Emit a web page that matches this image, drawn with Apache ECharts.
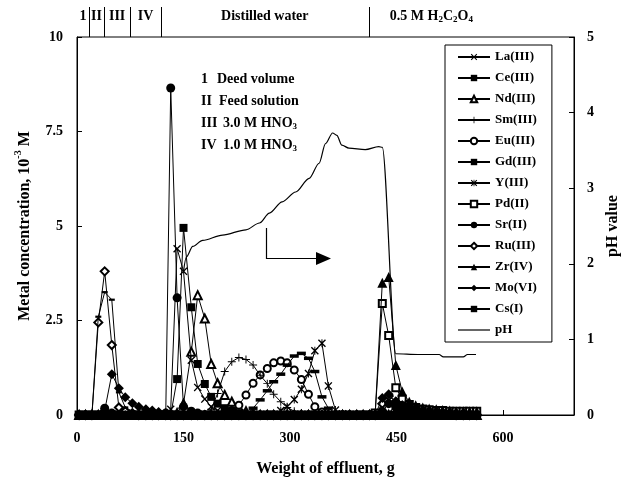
<!DOCTYPE html>
<html><head><meta charset="utf-8">
<script src="https://cdn.jsdelivr.net/npm/echarts@6/dist/echarts.min.js"></script>
<style>html,body{margin:0;padding:0;background:#fff}#c{width:635px;height:485px}</style>
</head><body><div id="c"></div>
<script>
// ---- data ----
const X = [3,12,21,30,39,49,59,68,78,87, 97,106,115,125,132,141,150,161,170,180, 189,198,208,218,228,238,248,258,268,277, 287,296,306,316,326,335,345,354,364,374, 384,394,403,412,420,430,439,449,458,468, 477,487,496,506,515,525,534,544,553,563];
const La = [0,0,0,0,0,0,0,0,0,0, 0,0,0,0,0.15,4.4,3.8,1.45,0.73,0.42, 0.22,0.12,0.06,0,0,0,0,0,0,0, 0,0,0,0,0,0,0,0,0,0, 0,0,0,0,0,0.05,0.05,0,0,0, 0,0,0,0,0,0,0,0,0,0];
const Ce = [0,0,0,0,0,0,0,0,0,0, 0,0,0,0,0,0.95,4.95,2.85,1.35,0.82, 0.48,0.3,0.18,0.1,0.05,0,0,0,0,0, 0,0,0,0,0,0,0,0,0,0, 0,0,0,0,0,0,0,0,0,0, 0,0,0,0,0,0,0,0,0,0];
const Nd = [0,0,0,0,0,0,0,0,0,0, 0,0,0,0,0,0.05,0.3,1.67,3.17,2.55, 1.35,0.84,0.53,0.35,0.2,0.1,0.05,0,0,0, 0,0,0,0,0,0,0,0,0,0, 0,0,0,0,0,0,0,0,0,0, 0,0,0,0,0,0,0,0,0,0];
const Sm = [0,0,0,0,0,0,0,0,0,0, 0,0,0,0,0,0,0,0,0,0, 0.15,0.57,1.15,1.41,1.52,1.47,1.32,1.05,0.83,0.55, 0.35,0.2,0.1,0.05,0,0,0,0,0,0, 0,0,0,0,0,0,0,0,0,0, 0,0,0,0,0,0,0,0,0,0];
const Eu = [0,0,0,0,0,0,0,0,0,0, 0,0,0,0,0,0,0,0,0,0, 0,0,0.05,0.12,0.26,0.53,0.84,1.06,1.23,1.38, 1.43,1.38,1.19,0.94,0.55,0.22,0.08,0,0,0, 0,0,0,0,0,0,0,0,0,0, 0,0,0,0,0,0,0,0,0,0];
const Gd = [0,0,0,0,0,0,0,0,0,0, 0,0,0,0,0,0,0,0,0,0, 0,0,0,0,0,0,0.18,0.4,0.64,0.88, 1.08,1.32,1.56,1.63,1.5,1.15,0.48,0.18,0.05,0, 0,0,0,0,0,0,0,0,0,0, 0,0,0,0,0,0,0,0,0,0];
const Y3 = [0,0,0,0,0,0,0,0,0,0, 0,0,0,0,0,0,0,0,0,0, 0,0,0,0,0,0,0,0,0,0, 0.12,0.22,0.41,0.68,1.1,1.7,1.9,0.77,0.13,0.03, 0,0,0,0,0,0,0,0,0,0, 0,0,0,0,0,0,0,0,0,0];
const Pd = [0,0,0,0,0,0,0,0,0,0, 0,0,0,0,0,0,0,0,0,0, 0,0,0,0,0,0,0,0,0,0, 0,0,0,0,0,0,0,0,0,0, 0,0,0,0,0.05,2.95,2.1,0.72,0.42,0.28, 0.2,0.16,0.14,0.12,0.12,0.1,0.1,0.1,0.1,0.1];
const Sr = [0,0,0,0,0.18,0.05,0,0,0,0, 0,0,0,0.05,8.65,3.1,0.22,0.1,0.05,0, 0,0,0,0,0,0,0,0,0,0, 0,0,0,0,0,0,0,0,0,0, 0,0,0,0,0,0.1,0.3,0.2,0.1,0.05, 0,0,0,0,0,0,0,0,0,0];
const Ru = [0,0,0,2.45,3.8,1.85,0.2,0.1,0.05,0, 0,0,0,0,0,0,0,0,0,0, 0,0,0,0,0,0,0,0,0,0, 0,0,0,0,0,0,0,0,0,0, 0,0,0,0,0,0.3,0.5,0.35,0.25,0.15, 0.1,0.08,0.06,0.05,0.05,0.05,0,0,0,0];
const Zr = [0,0,0,0,0,0,0,0,0,0, 0,0,0,0,0,0,0,0,0,0, 0,0,0,0,0,0,0,0,0,0, 0,0,0,0,0,0,0,0,0,0, 0,0,0,0,0.05,3.5,3.65,1.32,0.62,0.35, 0.26,0.2,0.17,0.15,0.13,0.12,0.1,0.1,0.1,0.1];
const Mo = [0,0,0,0,0.12,1.08,0.71,0.47,0.31,0.22, 0.15,0.12,0.08,0.05,0,0,0,0,0,0, 0,0,0,0,0,0,0,0,0,0, 0,0,0,0,0,0,0,0,0,0, 0,0,0,0,0,0.45,0.55,0.35,0.25,0.18, 0.12,0.1,0.08,0.06,0.05,0.05,0.05,0.05,0,0];
const Cs = [0,0,0,2.6,3.25,3.05,0.6,0.2,0.1,0.05, 0,0,0,0,0,0,0,0,0,0, 0,0,0,0,0,0,0,0,0,0, 0,0,0,0,0,0,0,0,0,0, 0,0,0,0,0,0,0,0,0,0, 0,0,0,0,0,0,0,0,0,0];
const pHx = [150,154,163,177,205,238,257,271,289,308,327,341,350,360,366,373,383,406,425,430,449,480,510,516,544,550,562];
const pHy = [1.9,2.09,2.23,2.31,2.38,2.45,2.54,2.67,2.82,2.95,3.13,3.33,3.59,3.73,3.70,3.57,3.53,3.51,3.55,3.54,0.81,0.80,0.80,0.77,0.77,0.80,0.80];
const xTickLabels = [0,150,300,450,600];
const phaseBounds = [17,38,75,118,411];
const phaseNames = ['1','II','III','IV','Distilled water'];
const noteNums = ['1','II','III','IV'];
const noteTexts = ['{a|Deed volume}','{a|Feed solution}','{a|3.0 M HNO}{s|3}','{a|1.0 M HNO}{s|3}'];

// ---- chart ----
const FONT = '"Liberation Serif","Times New Roman",serif';
const XP = 'path://M0,1.2L1.2,0L5,3.8L8.8,0L10,1.2L6.2,5L10,8.8L8.8,10L5,6.2L1.2,10L0,8.8L3.8,5Z';
const PLUS = 'path://M4.4,0H5.6V4.4H10V5.6H5.6V10H4.4V5.6H0V4.4H4.4Z';
const STAR = 'path://M0,1.2L1.2,0L5,3.8L8.8,0L10,1.2L6.2,5L10,8.8L8.8,10L5,6.2L1.2,10L0,8.8L3.8,5Z M4.4,0H5.6V10H4.4Z';
// name, values, symbol, size, borderWidth, z
const metals = [
  ['La(III)', La, XP, 8, 0, 3],
  ['Ce(III)', Ce, 'rect', 8, 0, 4],
  ['Nd(III)', Nd, 'emptyTriangle', 8, 1, 2],
  ['Sm(III)', Sm, PLUS, 8, 0, 3],
  ['Eu(III)', Eu, 'emptyCircle', 7, 1, 2],
  ['Gd(III)', Gd, 'rect', [9,3.5], 0, 4],
  ['Y(III)', Y3, STAR, 8, 0, 3],
  ['Pd(II)', Pd, 'emptyRect', 7, 1, 2],
  ['Sr(II)', Sr, 'circle', 9, 0, 4],
  ['Ru(III)', Ru, 'emptyDiamond', 8, 1, 2],
  ['Zr(IV)', Zr, 'triangle', 10, 0, 4],
  ['Mo(VI)', Mo, 'diamond', 10, 0, 4],
  ['Cs(I)', Cs, 'rect', [6,2.2], 0, 4]
];
const series = metals.map(m => ({
  name: m[0], type: 'line', data: X.map((x,i)=>[x, m[1][i]]), z: m[5],
  symbol: m[2], symbolSize: m[3], showAllSymbol: true, clip: false,
  lineStyle: {color:'#000', width: 1},
  itemStyle: {color:'#000', borderColor:'#000', borderWidth: m[4]},
  emphasis: {disabled: true}
}));
series.push({
  name: 'pH', type: 'line', yAxisIndex: 1, symbol: 'none', smooth: 0.3, smoothMonotone: 'x', z: 2,
  data: pHx.map((x,i)=>[x, pHy[i]]),
  lineStyle: {color:'#000', width: 1.2}, itemStyle: {color:'#000'}, emphasis: {disabled: true}
});

const chart = echarts.init(document.getElementById('c'), null, {renderer: 'canvas'});
const labelStyle = {fontFamily: FONT, fontWeight: 'bold', fontSize: 14, color: '#000'};
const legendData = metals.map(m => ({name: m[0]}));
legendData.push({name: 'pH', icon: 'path://M0,0M0,3.4H32V4.6H0ZM32,8'});
chart.setOption({
  animation: false,
  backgroundColor: '#fff',
  grid: {left: 77, top: 37, width: 497, height: 378, show: true, borderColor: '#000', borderWidth: 1},
  xAxis: {
    type: 'value', min: 0, max: 700, interval: 150,
    axisLine: {lineStyle: {color: '#000', width: 1}},
    axisTick: {inside: true, length: 5, lineStyle: {color: '#000'}},
    axisLabel: Object.assign({margin: 16, formatter: v => xTickLabels.includes(v) ? String(v) : ''}, labelStyle),
    splitLine: {show: false},
    name: 'Weight of effluent, g', nameLocation: 'middle', nameGap: 46,
    nameTextStyle: {fontFamily: FONT, fontWeight: 'bold', fontSize: 16, color: '#000'}
  },
  yAxis: [{
    type: 'value', min: 0, max: 10, interval: 2.5, position: 'left',
    axisLine: {show: true, lineStyle: {color: '#000'}},
    axisTick: {show: true, inside: true, length: 5, lineStyle: {color: '#000'}},
    axisLabel: Object.assign({margin: 14}, labelStyle),
    splitLine: {show: false},
    name: '{a|Metal concentration, 10}{s|-3}{a| M}', nameLocation: 'middle', nameGap: 44,
    nameTextStyle: {rich: {
      a: {fontFamily: FONT, fontWeight: 'bold', fontSize: 16, color: '#000', lineHeight: 20, verticalAlign: 'bottom'},
      s: {fontFamily: FONT, fontWeight: 'bold', fontSize: 10, color: '#000', lineHeight: 20, verticalAlign: 'top'}
    }}
  }, {
    type: 'value', min: 0, max: 5, interval: 1, position: 'right',
    axisLine: {show: true, lineStyle: {color: '#000'}},
    axisTick: {show: true, inside: true, length: 5, lineStyle: {color: '#000'}},
    axisLabel: Object.assign({margin: 13}, labelStyle),
    splitLine: {show: false},
    name: 'pH value', nameLocation: 'middle', nameGap: 30,
    nameTextStyle: {fontFamily: FONT, fontWeight: 'bold', fontSize: 16, color: '#000'}
  }],
  legend: {
    orient: 'vertical', left: 445, top: 45,
    padding: [5, 15, 5, 12], itemGap: 7, itemWidth: 32, itemHeight: 8,
    backgroundColor: '#fff', borderColor: '#000', borderWidth: 1, borderRadius: 0,
    textStyle: {fontFamily: FONT, fontWeight: 'bold', fontSize: 13, color: '#000', lineHeight: 14},
    data: legendData,
    selectedMode: false
  },
  series: series
});

// header & annotations
const px = v => chart.convertToPixel({xAxisIndex: 0}, v);
const g = [];
const hdrFont = 'bold 14px ' + FONT;
const richSub = {a: {font: hdrFont, fill: '#000', lineHeight: 18, verticalAlign: 'middle'},
                 s: {font: 'bold 9px ' + FONT, fill: '#000', lineHeight: 18, verticalAlign: 'bottom', padding: [0,0,1,0]}};
phaseBounds.forEach(b => {
  const x = Math.round(px(b)) + 0.5;
  g.push({type: 'line', shape: {x1: x, y1: 7, x2: x, y2: 37}, style: {stroke: '#000', lineWidth: 1}});
});
const edges = [0].concat(phaseBounds);
phaseNames.forEach((n, i) => {
  const cx = (px(edges[i]) + px(edges[i+1])) / 2;
  g.push({type: 'text', x: cx, y: 16, style: {text: n, font: hdrFont, fill: '#000', align: 'center', verticalAlign: 'middle'}});
});
g.push({type: 'text', x: px(phaseBounds[4]) + 21, y: 16, style: {
  text: '{a|0.5 M H}{s|2}{a|C}{s|2}{a|O}{s|4}', align: 'left', verticalAlign: 'middle', rich: richSub
}});
const noteY = [79, 101, 123, 145];
const noteX = [217, 219, 223, 223];
noteNums.forEach((n, i) => {
  g.push({type: 'text', x: 201, y: noteY[i], style: {text: n, font: hdrFont, fill: '#000', verticalAlign: 'middle'}});
  g.push({type: 'text', x: noteX[i], y: noteY[i], style: {text: noteTexts[i], verticalAlign: 'middle', rich: richSub}});
});
// arrow
g.push({type: 'polyline', shape: {points: [[266.5,228],[266.5,258.5],[318,258.5]]}, style: {stroke: '#000', lineWidth: 1.2, fill: null}});
g.push({type: 'polygon', shape: {points: [[316,252],[331,258.5],[316,265]]}, style: {fill: '#000'}});
chart.setOption({graphic: g});
</script>
</body></html>
